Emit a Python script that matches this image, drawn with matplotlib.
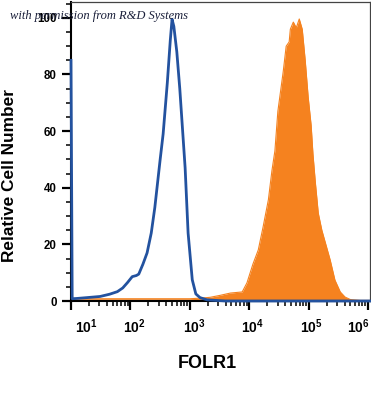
import numpy as np
import matplotlib
matplotlib.use("Agg")
import matplotlib.pyplot as plt
import matplotlib.transforms as mtransforms
from matplotlib.ticker import FixedLocator, LogLocator, NullFormatter

plt.rcParams['font.family'] = 'Liberation Sans'
plt.rcParams['mathtext.fontset'] = 'custom'
plt.rcParams['mathtext.bf'] = 'Liberation Sans:bold'
plt.rcParams['mathtext.rm'] = 'Liberation Sans:bold'
plt.rcParams['mathtext.default'] = 'bf'

# isotype control (blue outline), log10 of FOLR1 intensity vs relative count
iso_log = [1.00, 1.02, 1.10, 1.27, 1.49, 1.65, 1.78, 1.87, 1.95, 2.03, 2.10, 2.14,
           2.21, 2.28, 2.35, 2.41, 2.50, 2.55, 2.62, 2.67, 2.70, 2.73, 2.78, 2.83,
           2.92, 2.97, 3.04, 3.10, 3.17, 3.29, 3.60, 4.50, 6.03]
iso_val = [85, 0.8, 0.9, 1.2, 1.6, 2.4, 3.3, 4.6, 6.5, 8.6, 9.0, 9.5,
           13, 17, 24, 33, 50, 59, 77, 92, 99.5, 97, 88, 75,
           47, 24, 7.5, 2.5, 1.2, 0.4, 0, 0, 0]

# FOLR1 stained cells (orange filled)
folr_log = [1.03, 2.00, 3.00, 3.17, 3.34, 3.51, 3.68, 3.88, 3.96, 4.06, 4.15, 4.23,
            4.32, 4.38, 4.43, 4.48, 4.57, 4.62, 4.67, 4.69, 4.74, 4.79, 4.84, 4.89,
            4.94, 4.99, 5.04, 5.07, 5.11, 5.16, 5.22, 5.28, 5.36, 5.44, 5.53, 5.61,
            5.70, 5.87, 6.03]
folr_val = [0.8, 0.8, 0.8, 1.0, 1.3, 2.0, 2.8, 3.2, 6.4, 13, 18, 26,
            35.7, 46, 53, 67, 81, 90, 91.5, 96, 98.5, 96.5, 99.6, 96,
            85, 72, 62, 52, 42, 31, 25, 20.5, 14.5, 7.4, 3.2, 1.4,
            0.5, 0.2, 0.2]

decades = [1, 2, 3, 4, 5, 6]
yticks = [0, 20, 40, 60, 80, 100]

iso_x = 10.0 ** np.array(iso_log)
folr_x = 10.0 ** np.array(folr_log)

fig = plt.figure(figsize=(3.71, 3.95), dpi=100)
ax = fig.add_axes([71/371, 1-301/395, 299/371, 299/395])

ax.fill_between(folr_x, 0, folr_val, color='#f5821f', lw=0, zorder=2)
ax.plot(folr_x, folr_val, color='#f5821f', lw=0.8, zorder=2)
ax.plot(iso_x, iso_val, color='#23529f', lw=2.0, zorder=3, clip_on=False,
        solid_joinstyle='round')

ax.set_xscale('log')
ax.set_xlim(10, 10**6.03)
ax.set_ylim(0, 105.6)

ax.xaxis.set_major_locator(FixedLocator([10.0**d for d in decades]))
ax.xaxis.set_minor_locator(LogLocator(base=10, subs=np.arange(2, 10)))
ax.xaxis.set_minor_formatter(NullFormatter())
ax.set_xticklabels([r'$10^{%d}$' % d for d in decades])
ax.set_yticks(yticks)
ax.set_yticks(np.arange(0, 106, 5), minor=True)

ax.tick_params(which='major', length=6.5, width=1.6, color='black',
               labelsize=8.3, direction='out')
ax.tick_params(which='minor', length=3.5, width=1.1, color='black', direction='out')
ax.tick_params(axis='y', pad=3.6)
ax.tick_params(axis='x', pad=5, labelsize=10)
for lab in ax.get_yticklabels():
    lab.set_fontweight('bold')

# nudge x labels like the original export
shifts = [15, 4, 4, 3, 3, -10]
for lab, dx in zip(ax.get_xticklabels(), shifts):
    lab.set_transform(lab.get_transform() +
                      mtransforms.ScaledTranslation(dx/100, 0, fig.dpi_scale_trans))

for side in ['left', 'bottom']:
    ax.spines[side].set_linewidth(1.5)
    ax.spines[side].set_color('black')
for side in ['top', 'right']:
    ax.spines[side].set_linewidth(0.9)
    ax.spines[side].set_color('#444444')

fig.text(10/371, 1-176/395, 'Relative Cell Number', rotation=90, ha='center',
         va='center', fontsize=12.4, fontweight='bold')
fig.text(207/371, 1-363/395, 'FOLR1', ha='center', va='center',
         fontsize=13, fontweight='bold')
fig.text(10/371, 1-16/395, 'with permission from R&D Systems', ha='left',
         va='center', fontsize=9.0, style='italic', family='Liberation Serif',
         color='#1a1f3a', zorder=10)

fig.savefig('out.png', dpi=100)
